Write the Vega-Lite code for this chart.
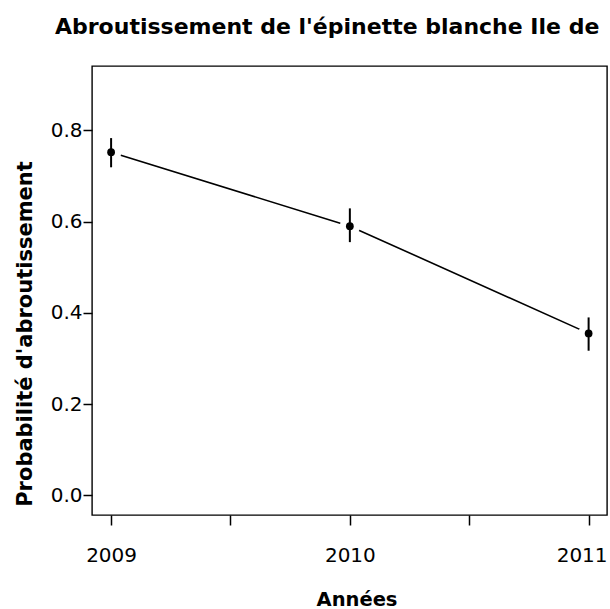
{
  "$schema": "https://vega.github.io/schema/vega-lite/v6.json",
  "autosize": "none",
  "width": 515,
  "height": 449,
  "padding": {"left": 92, "top": 66, "right": 3, "bottom": 94},
  "background": "white",
  "title": {
    "text": "Abroutissement de l'épinette blanche Ile de",
    "anchor": "start",
    "frame": "group",
    "dx": -37,
    "offset": 10,
    "baseline": "alphabetic",
    "font": "DejaVu Sans",
    "fontSize": 22,
    "fontWeight": "bold",
    "color": "black"
  },
  "config": {
    "view": {"stroke": "black", "strokeWidth": 1.4},
    "axis": {
      "domain": false,
      "grid": false,
      "tickColor": "black",
      "tickWidth": 1.5,
      "labelColor": "black",
      "titleColor": "black",
      "labelFont": "DejaVu Sans",
      "titleFont": "DejaVu Sans",
      "labelFontSize": 20,
      "titleFontWeight": "bold"
    }
  },
  "data": {
    "values": [
      {"year": 2009, "p": 0.752, "lo": 0.719, "hi": 0.783},
      {"year": 2010, "p": 0.590, "lo": 0.555, "hi": 0.629},
      {"year": 2011, "p": 0.355, "lo": 0.317, "hi": 0.390}
    ]
  },
  "encoding": {
    "x": {
      "field": "year",
      "type": "quantitative",
      "scale": {"domain": [2008.92, 2011.077], "nice": false, "zero": false},
      "axis": {
        "values": [2009, 2009.5, 2010, 2010.5, 2011],
        "labelExpr": "datum.value % 1 == 0 ? '' + datum.value : ''",
        "tickSize": 10,
        "labelPadding": 36,
        "labelBaseline": "alphabetic",
        "labelFlush": false,
        "labelOverlap": false,
        "labelOffset": {"condition": {"test": "datum.value == 2011", "value": -7}, "value": 0},
        "title": "Années",
        "titleFontSize": 19.5,
        "titleX": 264.5,
        "titleY": 90,
        "titleAlign": "center",
        "titleBaseline": "alphabetic",
        "titleAnchor": null
      }
    }
  },
  "layer": [
    {
      "mark": {"type": "line", "color": "black", "strokeWidth": 1.6},
      "encoding": {
        "y": {
          "field": "p",
          "type": "quantitative",
          "scale": {"domain": [-0.043, 0.941], "nice": false, "zero": false},
          "axis": {
            "values": [0, 0.2, 0.4, 0.6, 0.8],
            "format": ".1f",
            "tickSize": 9,
            "labelPadding": 1,
            "labelFlush": false,
            "labelOverlap": false,
            "title": "Probabilité d'abroutissement",
            "titleFontSize": 21,
            "titleAngle": 270,
            "titleX": -61,
            "titleY": 267.5,
            "titleAlign": "center",
            "titleBaseline": "alphabetic",
            "titleAnchor": null
          }
        }
      }
    },
    {
      "mark": {"type": "point", "filled": true, "shape": "circle", "color": "white", "opacity": 1, "size": 420},
      "encoding": {
        "y": {"field": "p", "type": "quantitative"}
      }
    },
    {
      "mark": {"type": "rule", "color": "black", "strokeWidth": 2},
      "encoding": {
        "y": {"field": "lo", "type": "quantitative"},
        "y2": {"field": "hi"}
      }
    },
    {
      "mark": {"type": "point", "filled": true, "shape": "circle", "color": "black", "opacity": 1, "size": 60},
      "encoding": {
        "y": {"field": "p", "type": "quantitative"}
      }
    }
  ]
}
